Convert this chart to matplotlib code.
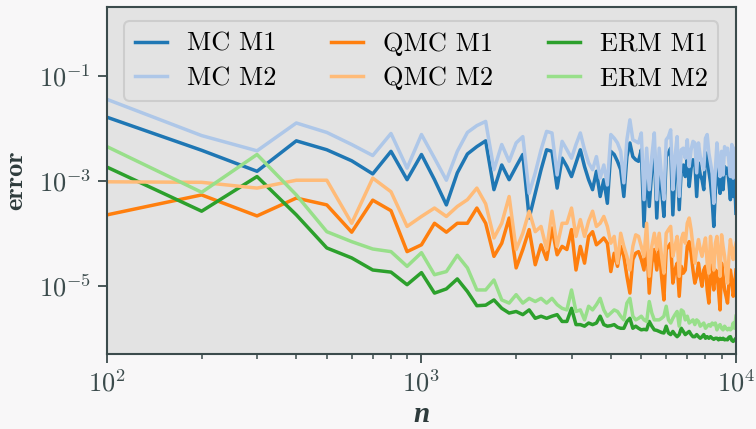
import numpy as np
import matplotlib.pyplot as plt
from matplotlib.ticker import NullLocator, LogLocator

plt.rcParams["font.family"] = "serif"
plt.rcParams["font.serif"] = ["cmr10", "DejaVu Serif"]
plt.rcParams["mathtext.fontset"] = "cm"
plt.rcParams["axes.formatter.use_mathtext"] = True
plt.rcParams["axes.unicode_minus"] = False

# sample sizes n = 100, 200, ..., 10000
n = np.arange(100, 10001, 100)

# log10(error)
mc_m1 = [-1.79, -2.42, -2.82, -2.24, -2.41, -2.62, -2.87, -2.44, -2.98, -2.50,
         -2.98, -3.46, -2.85, -2.49, -2.35, -2.24, -3.17, -2.70, -2.98, -2.73,
         -2.50, -3.71, -3.24, -2.79, -2.41, -2.44, -3.14, -2.57, -2.73, -2.92,
         -2.66, -2.41, -2.73, -2.98, -3.17, -2.82, -3.30, -2.98, -3.43, -2.44,
         -2.50, -2.63, -2.79, -3.30, -2.54, -2.28, -2.54, -2.60, -2.63, -2.41,
         -3.87, -2.66, -3.49, -2.79, -2.41, -3.71, -2.70, -3.17, -3.68, -2.54,
         -2.47, -2.38, -3.65, -2.79, -2.50, -3.55, -2.79, -2.70, -2.92, -2.54,
         -3.11, -2.76, -2.60, -2.63, -3.30, -2.66, -2.89, -2.98, -3.17, -2.54,
         -2.47, -2.82, -3.04, -3.36, -3.87, -3.17, -2.63, -2.98, -3.24, -2.82,
         -3.17, -2.73, -2.85, -2.76, -3.04, -3.36, -2.73, -3.30, -2.92, -3.62]
mc_m2 = [-1.45, -2.14, -2.43, -1.90, -2.08, -2.31, -2.52, -2.10, -2.76, -2.12,
         -2.57, -2.99, -2.44, -2.08, -1.95, -1.87, -2.79, -2.31, -2.63, -2.28,
         -2.16, -3.24, -2.85, -2.41, -2.06, -2.09, -2.89, -2.25, -2.41, -2.57,
         -2.31, -2.09, -2.41, -2.66, -2.79, -2.54, -2.95, -2.70, -3.08, -2.12,
         -2.19, -2.28, -2.44, -3.04, -2.22, -1.84, -2.22, -2.25, -2.28, -2.09,
         -3.36, -2.38, -3.17, -2.54, -2.09, -3.36, -2.38, -2.92, -3.36, -2.22,
         -2.16, -2.03, -3.17, -2.54, -2.16, -3.30, -2.41, -2.38, -2.57, -2.22,
         -2.73, -2.41, -2.25, -2.28, -2.85, -2.28, -2.54, -2.66, -2.79, -2.19,
         -2.12, -2.47, -2.66, -2.85, -3.43, -2.79, -2.28, -2.66, -2.92, -2.44,
         -2.89, -2.35, -2.50, -2.38, -2.66, -2.92, -2.31, -2.95, -2.38, -2.85]
qmc_m1 = [-3.65, -3.27, -3.67, -3.33, -3.46, -3.98, -3.37, -3.57, -4.35, -4.22,
          -3.81, -3.98, -3.81, -3.81, -3.52, -3.81, -4.44, -4.19, -3.71, -4.66,
          -4.31, -3.93, -4.60, -4.22, -4.50, -3.90, -4.41, -4.25, -4.31, -3.93,
          -4.70, -4.25, -4.57, -4.06, -3.97, -4.22, -4.16, -4.09, -4.19, -4.73,
          -4.38, -4.63, -4.25, -4.44, -4.82, -5.14, -4.50, -4.38, -4.35, -4.50,
          -4.70, -4.12, -5.14, -4.57, -4.31, -4.70, -4.25, -4.82, -5.27, -4.31,
          -4.25, -4.19, -4.95, -4.70, -4.57, -5.20, -4.63, -4.76, -4.70, -4.25,
          -4.16, -4.38, -4.70, -4.95, -4.82, -4.57, -4.82, -5.01, -4.70, -4.63,
          -5.08, -5.33, -4.60, -4.82, -5.08, -4.70, -4.73, -5.08, -5.46, -4.57,
          -4.82, -5.08, -5.20, -5.33, -4.95, -4.70, -4.89, -5.20, -5.01, -4.70]
qmc_m2 = [-3.02, -3.03, -3.14, -2.99, -2.99, -3.81, -2.95, -3.21, -3.87, -3.68,
          -3.52, -3.68, -3.49, -3.36, -3.14, -3.44, -4.09, -3.81, -3.30, -4.31,
          -4.00, -3.58, -3.97, -3.87, -4.31, -3.58, -4.25, -3.81, -3.81, -3.52,
          -4.06, -3.74, -4.06, -3.77, -3.58, -3.87, -3.81, -3.68, -3.87, -4.19,
          -4.06, -4.57, -4.00, -4.25, -4.44, -4.70, -4.25, -4.03, -4.06, -4.25,
          -4.44, -3.81, -4.82, -4.25, -4.00, -4.31, -4.00, -4.44, -4.76, -4.00,
          -3.93, -3.87, -4.44, -4.25, -4.06, -4.82, -4.12, -4.00, -4.19, -3.81,
          -3.71, -3.93, -4.25, -4.57, -4.31, -4.12, -4.31, -4.44, -4.25, -4.09,
          -4.57, -4.76, -4.06, -4.44, -4.70, -4.19, -4.06, -4.44, -4.82, -4.03,
          -4.25, -4.44, -4.70, -4.95, -4.44, -4.12, -4.31, -4.50, -4.31, -4.19]
erm_m1 = [-2.74, -3.58, -2.92, -3.65, -4.28, -4.47, -4.70, -4.74, -4.98, -4.75,
          -5.14, -5.06, -4.87, -5.11, -5.38, -5.37, -5.27, -5.43, -5.52, -5.49,
          -5.55, -5.46, -5.62, -5.58, -5.62, -5.58, -5.55, -5.68, -5.68, -5.43,
          -5.74, -5.74, -5.77, -5.71, -5.74, -5.71, -5.58, -5.74, -5.77, -5.76,
          -5.74, -5.79, -5.81, -5.81, -5.68, -5.62, -5.81, -5.77, -5.81, -5.84,
          -5.83, -5.84, -5.68, -5.77, -5.84, -5.85, -5.87, -5.89, -5.90, -5.77,
          -5.90, -5.93, -5.87, -5.93, -5.97, -5.93, -5.81, -5.87, -5.93, -5.90,
          -5.87, -5.93, -5.97, -5.97, -5.93, -5.97, -6.00, -5.97, -5.93, -6.00,
          -5.97, -6.00, -5.97, -6.00, -6.02, -6.00, -6.00, -6.03, -6.00, -6.02,
          -6.00, -6.03, -6.02, -6.03, -5.98, -5.97, -6.04, -6.06, -6.03, -6.00]
erm_m2 = [-2.35, -3.22, -2.50, -3.27, -3.97, -4.16, -4.30, -4.35, -4.63, -4.37,
          -4.79, -4.73, -4.42, -4.66, -5.08, -5.08, -4.89, -5.27, -5.33, -5.17,
          -5.33, -5.24, -5.30, -5.24, -5.33, -5.24, -5.36, -5.43, -5.46, -5.08,
          -5.49, -5.46, -5.65, -5.39, -5.46, -5.36, -5.24, -5.46, -5.58, -5.52,
          -5.46, -5.49, -5.58, -5.65, -5.33, -5.24, -5.58, -5.65, -5.62, -5.58,
          -5.65, -5.68, -5.30, -5.52, -5.65, -5.65, -5.65, -5.62, -5.58, -5.39,
          -5.65, -5.71, -5.62, -5.55, -5.49, -5.77, -5.46, -5.49, -5.65, -5.58,
          -5.71, -5.68, -5.65, -5.74, -5.65, -5.68, -5.77, -5.74, -5.71, -5.81,
          -5.77, -5.74, -5.77, -5.71, -5.74, -5.71, -5.84, -5.77, -5.74, -5.81,
          -5.84, -5.77, -5.81, -5.84, -5.81, -5.84, -5.81, -5.71, -5.81, -5.58]

series = [
    ("MC M1", mc_m1, "#1f77b4"),
    ("MC M2", mc_m2, "#aec7e8"),
    ("QMC M1", qmc_m1, "#ff7f0e"),
    ("QMC M2", qmc_m2, "#ffbb78"),
    ("ERM M1", erm_m1, "#2ca02c"),
    ("ERM M2", erm_m2, "#98df8a"),
]

dark = "#3b4b4c"

fig = plt.figure(figsize=(7.56, 4.29), dpi=100, facecolor="#f8f7f8")
ax = fig.add_axes([0.1415, 0.1748, 0.832, 0.809])
ax.set_facecolor("#e3e3e3")

# draw order: light M2 curves sit on top of the M1 curves
for idx in [0, 2, 4, 1, 3, 5]:
    label, vals, color = series[idx]
    ax.plot(n, 10.0 ** np.array(vals), color=color, lw=2.5, label=label)

ax.set_xscale("log")
ax.set_yscale("log")
ax.set_xlim(100, 10000)
ax.set_ylim(10 ** -6.3, 10 ** 0.31)
ax.set_yticks([1e-5, 1e-3, 1e-1])
ax.yaxis.set_minor_locator(NullLocator())
ax.xaxis.set_minor_locator(LogLocator(base=10, subs=np.arange(2, 10), numticks=20))

for s in ax.spines.values():
    s.set_color(dark)
    s.set_linewidth(1.5)
ax.tick_params(which="major", length=6.5, width=1.3, color=dark,
               labelcolor=dark, labelsize=19, pad=5)
ax.tick_params(which="minor", length=3.5, width=1.1, color=dark)

ax.set_ylabel("error", family="cmb10", fontsize=19, color="#2e3b3c", labelpad=8)
ax.set_xlabel("n", family="Liberation Serif", weight="bold", style="italic",
              fontsize=21, color="#2e3b3c", labelpad=3)

handles, labels = ax.get_legend_handles_labels()
order = [0, 3, 1, 4, 2, 5]
leg = ax.legend([handles[i] for i in order], [labels[i] for i in order],
                loc="upper center", ncol=3, fontsize=19, handlelength=1.2,
                handletextpad=0.75, columnspacing=2.1, labelspacing=0.4,
                borderaxespad=0.55, fancybox=True, framealpha=1.0,
                facecolor="#e3e3e3", edgecolor="#cdcdcd")
leg.get_frame().set_linewidth(1.5)

fig.savefig("out.png", dpi=100, facecolor=fig.get_facecolor())
